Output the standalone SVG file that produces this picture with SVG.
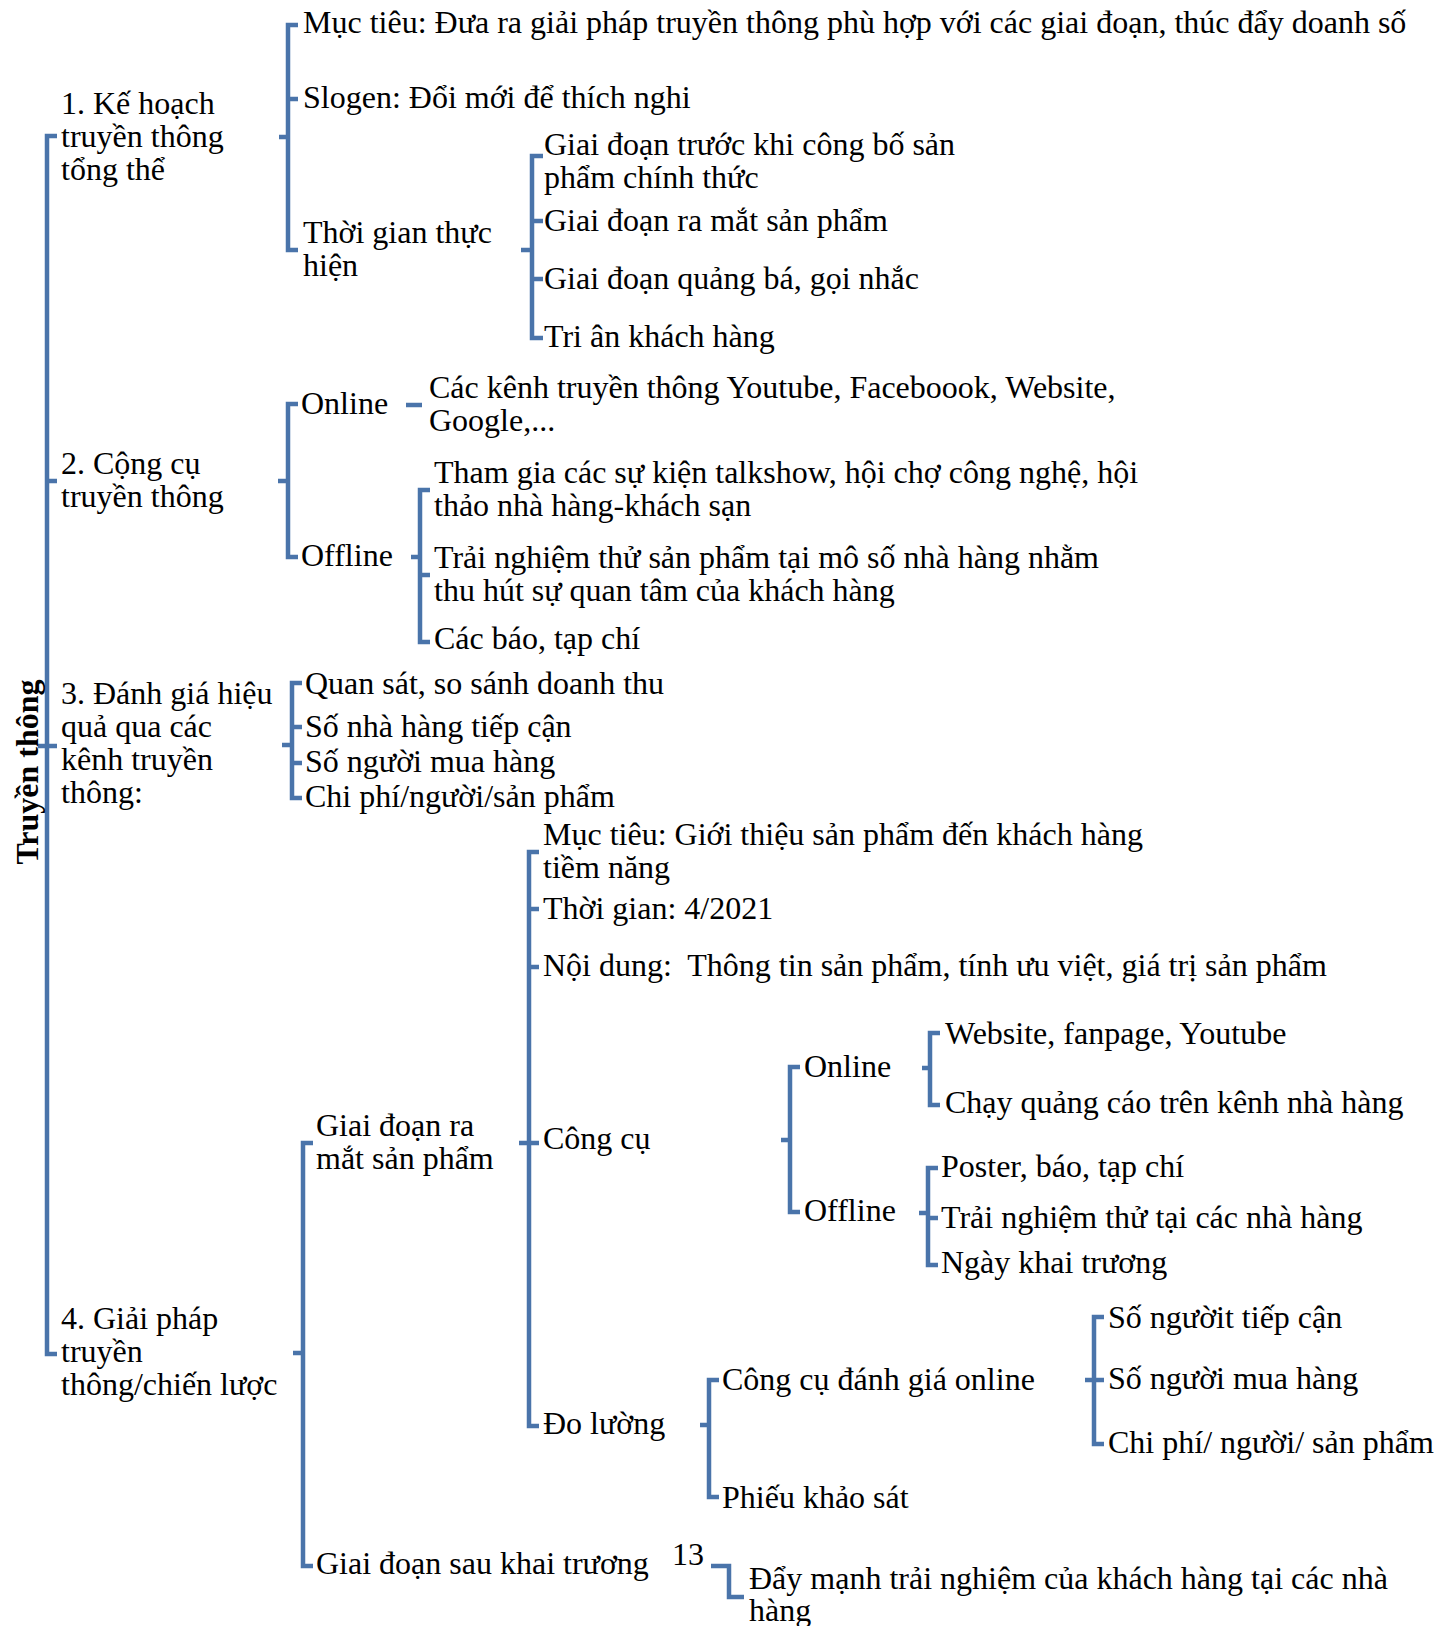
<svg xmlns="http://www.w3.org/2000/svg" width="1437" height="1626" viewBox="0 0 1437 1626">
<style>
.t{font-family:"Liberation Serif","Times New Roman",serif;font-size:32px;fill:#000;white-space:pre}
.root{font-family:"Liberation Serif","Times New Roman",serif;font-size:32px;font-weight:bold;fill:#000}
.br{fill:none;stroke:#4A74AA;stroke-width:4.5;stroke-linecap:butt;stroke-linejoin:miter}
</style>
<rect width="1437" height="1626" fill="#fff"/>
<g id="connectors">
<path class="br" d="M57,136 H47 V1354 H57 M47,481 H57 M38,746 H57"/>
<path class="br" d="M298,25 H288 V250 H298 M288,99 H298 M279,137 H288"/>
<path class="br" d="M543,156 H532 V338 H543 M532,221 H543 M532,279 H543 M521,250 H532"/>
<path class="br" d="M298,404 H288 V557 H298 M278,481 H288"/>
<path class="br" d="M406,405 H422"/>
<path class="br" d="M430,490 H420 V642 H430 M420,575 H430 M411,557 H420"/>
<path class="br" d="M302,683 H292 V798 H302 M292,727 H302 M292,763 H302 M282,745 H292"/>
<path class="br" d="M313,1143 H303 V1566 H313 M293,1353 H303"/>
<path class="br" d="M539,852 H529 V1426 H539 M529,909 H539 M529,967 H539 M519,1143 H539"/>
<path class="br" d="M800,1067 H790 V1212 H800 M781,1140 H790"/>
<path class="br" d="M940,1033 H930 V1105 H940 M922,1068 H930"/>
<path class="br" d="M938,1168 H928 V1265 H938 M928,1218 H938 M919,1213 H928"/>
<path class="br" d="M719,1380 H709 V1497 H719 M700,1425 H709"/>
<path class="br" d="M1104,1317 H1094 V1444 H1104 M1085,1380 H1104"/>
<path class="br" d="M711,1566 H729 V1597 H744"/>
</g>
<g id="root"><text class="root" transform="translate(38,772) rotate(-90)" text-anchor="middle">Truyền thông</text></g>
<g id="n1"><text class="t" x="61" y="114">1. Kế hoạch</text><text class="t" x="61" y="147">truyền thông</text><text class="t" x="61" y="180">tổng thể</text></g>
<g id="n1a"><text class="t" x="303" y="33">Mục tiêu: Đưa ra giải pháp truyền thông phù hợp với các giai đoạn, thúc đẩy doanh số</text></g>
<g id="n1b"><text class="t" x="303" y="108">Slogen: Đổi mới để thích nghi</text></g>
<g id="n1c"><text class="t" x="303" y="243">Thời gian thực</text><text class="t" x="303" y="276">hiện</text></g>
<g id="n1c1"><text class="t" x="544" y="155">Giai đoạn trước khi công bố sản</text><text class="t" x="544" y="188">phẩm chính thức</text></g>
<g id="n1c2"><text class="t" x="544" y="231">Giai đoạn ra mắt sản phẩm</text></g>
<g id="n1c3"><text class="t" x="544" y="289">Giai đoạn quảng bá, gọi nhắc</text></g>
<g id="n1c4"><text class="t" x="544" y="347">Tri ân khách hàng</text></g>
<g id="n2"><text class="t" x="61" y="474">2. Cộng cụ</text><text class="t" x="61" y="507">truyền thông</text></g>
<g id="n2a"><text class="t" x="301" y="414">Online</text></g>
<g id="n2a1"><text class="t" x="429" y="398">Các kênh truyền thông Youtube, Faceboook, Website,</text><text class="t" x="429" y="431">Google,...</text></g>
<g id="n2b"><text class="t" x="301" y="566">Offline</text></g>
<g id="n2b1"><text class="t" x="434" y="483">Tham gia các sự kiện talkshow, hội chợ công nghệ, hội</text><text class="t" x="434" y="516">thảo nhà hàng-khách sạn</text></g>
<g id="n2b2"><text class="t" x="434" y="568">Trải nghiệm thử sản phẩm tại mô số nhà hàng nhằm</text><text class="t" x="434" y="601">thu hút sự quan tâm của khách hàng</text></g>
<g id="n2b3"><text class="t" x="434" y="649">Các báo, tạp chí</text></g>
<g id="n3"><text class="t" x="61" y="704">3. Đánh giá hiệu</text><text class="t" x="61" y="737">quả qua các</text><text class="t" x="61" y="770">kênh truyền</text><text class="t" x="61" y="803">thông:</text></g>
<g id="n3a"><text class="t" x="305" y="694">Quan sát, so sánh doanh thu</text></g>
<g id="n3b"><text class="t" x="305" y="737">Số nhà hàng tiếp cận</text></g>
<g id="n3c"><text class="t" x="305" y="772">Số người mua hàng</text></g>
<g id="n3d"><text class="t" x="305" y="807">Chi phí/người/sản phẩm</text></g>
<g id="n4"><text class="t" x="61" y="1329">4. Giải pháp</text><text class="t" x="61" y="1362">truyền</text><text class="t" x="61" y="1395">thông/chiến lược</text></g>
<g id="n4a"><text class="t" x="316" y="1136">Giai đoạn ra</text><text class="t" x="316" y="1169">mắt sản phẩm</text></g>
<g id="n4a1"><text class="t" x="543" y="845">Mục tiêu: Giới thiệu sản phẩm đến khách hàng</text><text class="t" x="543" y="878">tiềm năng</text></g>
<g id="n4a2"><text class="t" x="543" y="919">Thời gian: 4/2021</text></g>
<g id="n4a3"><text class="t" x="543" y="976">Nội dung:  Thông tin sản phẩm, tính ưu việt, giá trị sản phẩm</text></g>
<g id="n4a4"><text class="t" x="543" y="1149">Công cụ</text></g>
<g id="n4a4a"><text class="t" x="804" y="1077">Online</text></g>
<g id="n4a4a1"><text class="t" x="945" y="1044">Website, fanpage, Youtube</text></g>
<g id="n4a4a2"><text class="t" x="945" y="1113">Chạy quảng cáo trên kênh nhà hàng</text></g>
<g id="n4a4b"><text class="t" x="804" y="1221">Offline</text></g>
<g id="n4a4b1"><text class="t" x="941" y="1177">Poster, báo, tạp chí</text></g>
<g id="n4a4b2"><text class="t" x="941" y="1228">Trải nghiệm thử tại các nhà hàng</text></g>
<g id="n4a4b3"><text class="t" x="941" y="1273">Ngày khai trương</text></g>
<g id="n4a5"><text class="t" x="543" y="1434">Đo lường</text></g>
<g id="n4a5a"><text class="t" x="722" y="1390">Công cụ đánh giá online</text></g>
<g id="n4a5a1"><text class="t" x="1108" y="1328">Số ngườit tiếp cận</text></g>
<g id="n4a5a2"><text class="t" x="1108" y="1389">Số người mua hàng</text></g>
<g id="n4a5a3"><text class="t" x="1108" y="1453">Chi phí/ người/ sản phẩm</text></g>
<g id="n4a5b"><text class="t" x="722" y="1508">Phiếu khảo sát</text></g>
<g id="n4b"><text class="t" x="316" y="1574">Giai đoạn sau khai trương</text></g>
<g id="page"><text class="t" x="672" y="1565">13</text></g>
<g id="n4b1"><text class="t" x="749" y="1589">Đẩy mạnh trải nghiệm của khách hàng tại các nhà</text><text class="t" x="749" y="1621">hàng</text></g>
</svg>
